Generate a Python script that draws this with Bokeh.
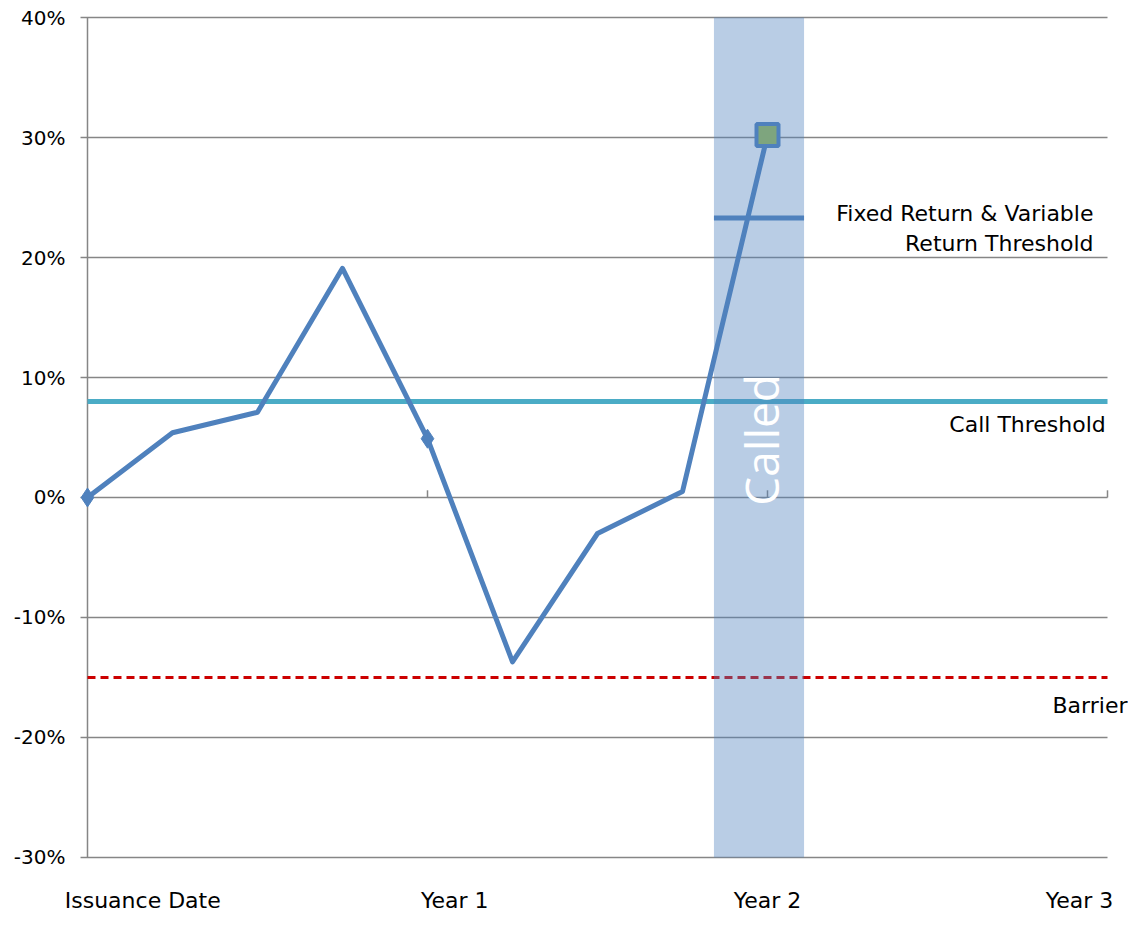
import math
from bokeh.plotting import figure
from bokeh.models import Label
from bokeh.core.properties import value
from bokeh.embed import file_html
from bokeh.resources import INLINE

# ---- data ----
quarters = [0, 1, 2, 3, 4, 5, 6, 7, 8]
returns = [0.0, 5.4, 7.1, 19.1, 4.9, -13.7, -3.0, 0.5, 30.2]
call_threshold = 8.0
barrier = -15.0
fixed_return_threshold = 23.3
called_start = 7.37
called_end = 8.43
y_ticks = [-30, -20, -10, 0, 10, 20, 30, 40]
y_tick_labels = [f"{t}%" for t in y_ticks]
year_ticks = [0, 4, 8, 12]
year_labels = ["Issuance Date", "Year 1", "Year 2", "Year 3"]

# ---- layout (text placement, in data units) ----
year_label_pos = [0.65, 4.32, 8.0, 11.67]
year_label_y = -33.6
y_label_x = -0.26
tick_len = 0.082
BASE_FIX = 0.67  # svg alphabetic-baseline correction

FONT = "DejaVu Sans"
GRID = "#868686"
BLUE = "#4F81BD"

p = figure(width=1128, height=913, x_range=(-1.0235, 12.247), y_range=(-34.667, 41.417),
           output_backend="svg", toolbar_location=None,
           x_axis_location=None, y_axis_location=None,
           min_border_left=0, min_border_top=0, min_border_right=0, min_border_bottom=0)
p.outline_line_color = None
p.background_fill_color = "white"
p.xgrid.visible = False
p.ygrid.visible = False

# gridlines (with their outward tick on the left)
p.segment(x0=[year_ticks[0] - tick_len] * len(y_ticks), y0=y_ticks,
          x1=[year_ticks[-1]] * len(y_ticks), y1=y_ticks,
          line_color=GRID, line_width=1.5)
# y axis spine
p.segment(x0=[year_ticks[0]], y0=[y_ticks[0]], x1=[year_ticks[0]], y1=[y_ticks[-1]],
          line_color=GRID, line_width=1.5)
# y tick labels
p.text(x=[y_label_x] * len(y_ticks), y=y_ticks, text=y_tick_labels,
       text_font=value(FONT), text_font_size="20px", text_color="black",
       text_align="right", text_baseline="middle")

# small ticks on the 0% line at each year
p.segment(x0=year_ticks[1:], y0=[0] * 3, x1=year_ticks[1:], y1=[0.6] * 3,
          line_color=GRID, line_width=1.5)

# year labels under the chart
p.text(x=year_label_pos, y=[year_label_y] * len(year_labels), text=year_labels,
       text_font=value(FONT), text_font_size="22px", text_color="black",
       text_align="center", text_baseline="alphabetic")

# barrier
p.line([year_ticks[0], year_ticks[-1]], [barrier, barrier], line_color="#CC0000",
       line_width=3, line_dash="8 5")

# call threshold
p.line([year_ticks[0], year_ticks[-1]], [call_threshold, call_threshold],
       line_color="#4BACC6", line_width=5)

# main line
p.line(quarters, returns, line_color=BLUE, line_width=5, line_join="round")

# fixed return threshold
p.line([called_start, called_end], [fixed_return_threshold] * 2, line_color=BLUE, line_width=5)

# called band (translucent)
p.quad(left=[called_start], right=[called_end], bottom=[y_ticks[0]], top=[y_ticks[-1]],
       fill_color=BLUE, fill_alpha=0.4, line_color=None)

# markers
p.scatter([quarters[0], quarters[4]], [returns[0], returns[4]], marker="diamond",
          size=19, fill_color=BLUE, line_color=BLUE)
p.scatter([quarters[-1]], [returns[-1]], marker="square", size=22,
          fill_color="#7EA57E", line_color=BLUE, line_width=4)


def lab(text, x, y, align="right", size="22px", color="black", angle=0,
        baseline="alphabetic", font=FONT):
    p.add_layout(Label(x=x, y=y, text=text, text_font=font, text_font_size=size,
                       text_color=color, text_align=align, text_baseline=baseline,
                       angle=angle))


lab("Called", 7.92, 4.8, align="center", size="46px", color="white", angle=math.pi / 2,
    baseline="middle", font="Open Sans")
lab("Fixed Return & Variable", 11.835, 23.0 + BASE_FIX)
lab("Return Threshold", 11.835, 20.5 + BASE_FIX)
lab("Call Threshold", 11.98, 5.4 + BASE_FIX)
lab("Barrier", 12.235, -18.0 + BASE_FIX)

open("out.html", "w").write(file_html(p, INLINE))
